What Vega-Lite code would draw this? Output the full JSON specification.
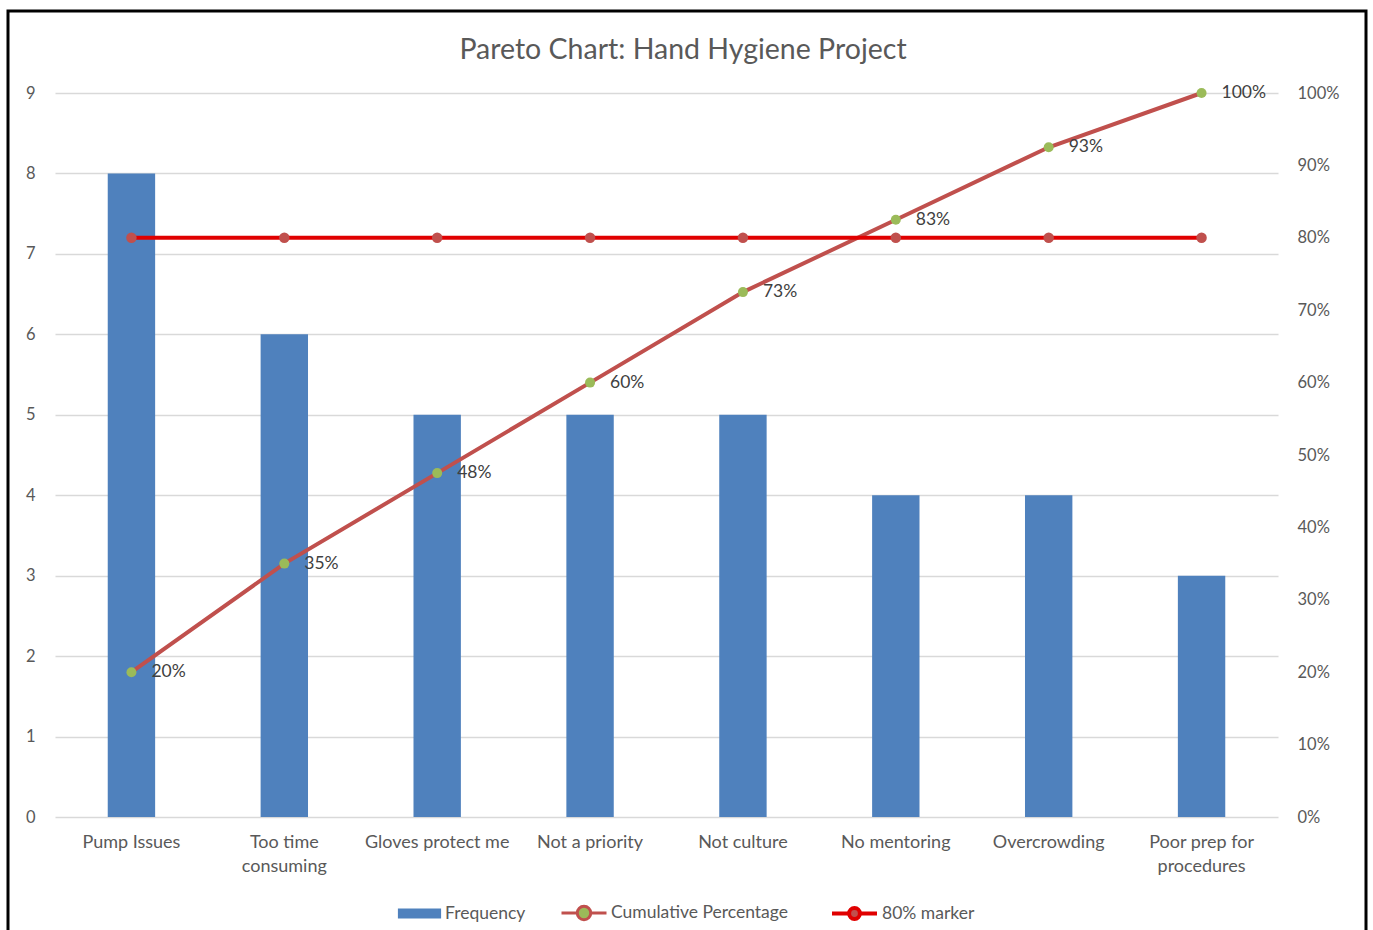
{
  "$schema": "https://vega.github.io/schema/vega-lite/v6.json",
  "autosize": "none",
  "width": 1358,
  "height": 925,
  "padding": {"left": 8, "top": 11, "right": 7, "bottom": 0},
  "background": "white",
  "config": {
    "font": "Lato",
    "view": {"stroke": "#000000", "strokeWidth": 3},
    "axis": {"labelFont": "Lato", "labelColor": "#595959", "labelFontSize": 16.5},
    "legend": {"labelFont": "Lato", "labelFontSize": 17.5, "labelColor": "#595959", "labelLimit": 400, "symbolOpacity": 1, "labelOffset": 3, "title": null, "orient": "none", "direction": "horizontal"}
  },
  "title": {
    "text": "Pareto Chart: Hand Hygiene Project",
    "fontSize": 28.5,
    "font": "Lato",
    "fontWeight": "normal",
    "color": "#595959",
    "anchor": "middle",
    "offset": -53,
    "dx": -4
  },
  "data": {
    "values": [
      {"category": "Pump Issues", "frequency": 8, "cumulative": 0.2, "label": "20%", "marker": 0.8},
      {"category": "Too time consuming", "frequency": 6, "cumulative": 0.35, "label": "35%", "marker": 0.8},
      {"category": "Gloves protect me", "frequency": 5, "cumulative": 0.475, "label": "48%", "marker": 0.8},
      {"category": "Not a priority", "frequency": 5, "cumulative": 0.6, "label": "60%", "marker": 0.8},
      {"category": "Not culture", "frequency": 5, "cumulative": 0.725, "label": "73%", "marker": 0.8},
      {"category": "No mentoring", "frequency": 4, "cumulative": 0.825, "label": "83%", "marker": 0.8},
      {"category": "Overcrowding", "frequency": 4, "cumulative": 0.925, "label": "93%", "marker": 0.8},
      {"category": "Poor prep for procedures", "frequency": 3, "cumulative": 1.0, "label": "100%", "marker": 0.8}
    ]
  },
  "encoding": {
    "x": {
      "field": "category",
      "type": "nominal",
      "sort": null,
      "scale": {"range": [47, 1270], "paddingInner": 0.69, "paddingOuter": 0.345},
      "axis": {
        "title": null,
        "orient": "bottom",
        "offset": -119,
        "domain": false,
        "ticks": false,
        "labelAngle": 0,
        "labelPadding": 16,
        "labelFontSize": 18,
        "labelLineHeight": 24,
        "labelExpr": "datum.value == 'Too time consuming' ? ['Too time', 'consuming'] : datum.value == 'Poor prep for procedures' ? ['Poor prep for', 'procedures'] : datum.value"
      }
    }
  },
  "layer": [
    {
      "mark": {"type": "bar", "color": "#4F81BD"},
      "encoding": {
        "y": {
          "field": "frequency",
          "type": "quantitative",
          "scale": {"domain": [0, 9], "range": [806, 82], "nice": false, "zero": true},
          "axis": {
            "title": null,
            "orient": "left",
            "offset": -47,
            "values": [0, 1, 2, 3, 4, 5, 6, 7, 8, 9],
            "domain": false,
            "ticks": false,
            "labelPadding": 20,
            "grid": true,
            "gridColor": "#D9D9D9",
            "gridWidth": 1.5
          }
        }
      }
    },
    {
      "mark": {"type": "line", "color": "#C0504D", "strokeWidth": 4},
      "encoding": {
        "y": {
          "field": "cumulative",
          "type": "quantitative",
          "scale": {"domain": [0, 1], "range": [806, 82], "nice": false},
          "axis": {
            "title": null,
            "orient": "right",
            "offset": -88,
            "values": [0, 0.1, 0.2, 0.3, 0.4, 0.5, 0.6, 0.7, 0.8, 0.9, 1],
            "format": ".0%",
            "domain": false,
            "ticks": false,
            "grid": false,
            "labelPadding": 19
          }
        }
      }
    },
    {
      "mark": {"type": "point", "filled": true, "color": "#9BBB59", "size": 100, "opacity": 1},
      "encoding": {
        "y": {"field": "cumulative", "type": "quantitative", "scale": {"domain": [0, 1], "range": [806, 82], "nice": false}, "axis": null}
      }
    },
    {
      "mark": {"type": "text", "align": "left", "baseline": "middle", "dx": 20, "fontSize": 17.5, "color": "#404040", "font": "Lato"},
      "encoding": {
        "y": {"field": "cumulative", "type": "quantitative", "scale": {"domain": [0, 1], "range": [806, 82], "nice": false}, "axis": null},
        "text": {"field": "label"}
      }
    },
    {
      "mark": {"type": "line", "color": "#E00000", "strokeWidth": 4},
      "encoding": {
        "y": {"field": "marker", "type": "quantitative", "scale": {"domain": [0, 1], "range": [806, 82], "nice": false}, "axis": null}
      }
    },
    {
      "mark": {"type": "point", "filled": true, "color": "#C0504D", "size": 110, "opacity": 1},
      "encoding": {
        "y": {"field": "marker", "type": "quantitative", "scale": {"domain": [0, 1], "range": [806, 82], "nice": false}, "axis": null}
      }
    },
    {
      "data": {"values": [{"s1": "Frequency"}]},
      "mark": {"type": "point", "filled": true, "opacity": 0},
      "encoding": {
        "x": {"value": 0},
        "fill": {
          "field": "s1",
          "type": "nominal",
          "scale": {"domain": ["Frequency"], "range": ["#4F81BD"]},
          "legend": {
            "legendX": 389,
            "legendY": 880,
            "symbolSize": 2025,
            "symbolType": "M-0.96,-0.22H0.96V0.22H-0.96Z",
            "symbolStrokeWidth": 0
          }
        }
      }
    },
    {
      "data": {"values": [{"s2": "Cumulative Percentage"}]},
      "mark": {"type": "point", "filled": true, "opacity": 0},
      "encoding": {
        "x": {"value": 0},
        "fill": {
          "field": "s2",
          "type": "nominal",
          "scale": {"domain": ["Cumulative Percentage"], "range": ["#9BBB59"]},
          "legend": {
            "legendX": 552,
            "legendY": 878,
            "symbolSize": 2025,
            "symbolType": "M-1,0H-0.3A0.3,0.3 0 1,1 0.3,0H1M0.3,0A0.3,0.3 0 1,1 -0.3,0",
            "symbolStrokeWidth": 3
          }
        },
        "stroke": {
          "field": "s2",
          "type": "nominal",
          "scale": {"domain": ["Cumulative Percentage"], "range": ["#C0504D"]},
          "legend": {
            "legendX": 552,
            "legendY": 878,
            "symbolSize": 2025,
            "symbolType": "M-1,0H-0.3A0.3,0.3 0 1,1 0.3,0H1M0.3,0A0.3,0.3 0 1,1 -0.3,0",
            "symbolStrokeWidth": 3
          }
        }
      }
    },
    {
      "data": {"values": [{"s3": "80% marker"}]},
      "mark": {"type": "point", "filled": true, "opacity": 0},
      "encoding": {
        "x": {"value": 0},
        "fill": {
          "field": "s3",
          "type": "nominal",
          "scale": {"domain": ["80% marker"], "range": ["#C0504D"]},
          "legend": {
            "legendX": 822,
            "legendY": 878,
            "symbolSize": 2025,
            "symbolType": "M-1,0H-0.24A0.24,0.24 0 1,1 0.24,0H1M0.24,0A0.24,0.24 0 1,1 -0.24,0",
            "symbolStrokeWidth": 4
          }
        },
        "stroke": {
          "field": "s3",
          "type": "nominal",
          "scale": {"domain": ["80% marker"], "range": ["#E00000"]},
          "legend": {
            "legendX": 822,
            "legendY": 878,
            "symbolSize": 2025,
            "symbolType": "M-1,0H-0.24A0.24,0.24 0 1,1 0.24,0H1M0.24,0A0.24,0.24 0 1,1 -0.24,0",
            "symbolStrokeWidth": 4
          }
        }
      }
    }
  ],
  "resolve": {"scale": {"y": "independent", "fill": "independent", "stroke": "independent"}}
}
